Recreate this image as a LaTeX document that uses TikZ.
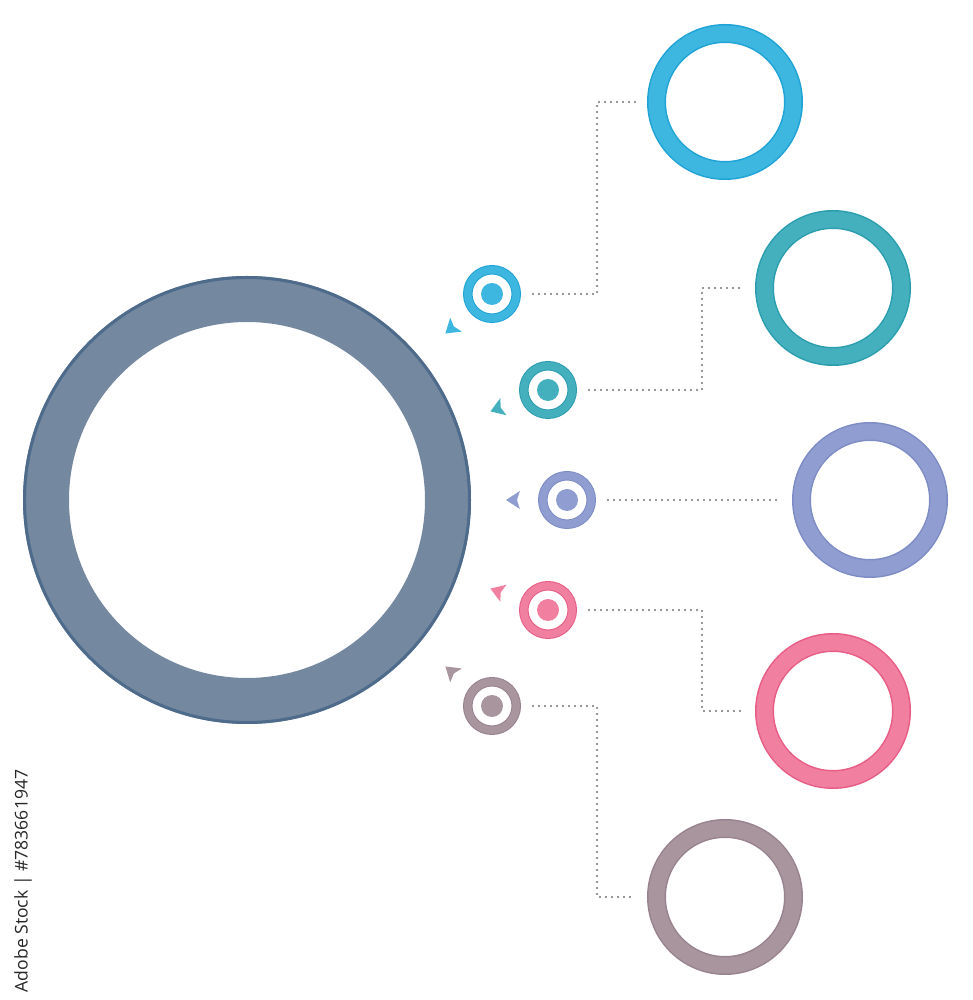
\documentclass[tikz,border=0pt]{standalone}
\usepackage{fontspec}
\newfontfamily\stockfont{Open Sans}
\usetikzlibrary{calc}
\definecolor{hubfill}{HTML}{7489A0}
\definecolor{hubedge}{HTML}{4F6B8B}
\definecolor{bluefill}{HTML}{3DB6E0}
\definecolor{blueedge}{HTML}{1FA3D6}
\definecolor{tealfill}{HTML}{45B0BD}
\definecolor{tealedge}{HTML}{2A9DAE}
\definecolor{lilacfill}{HTML}{909DD0}
\definecolor{lilacedge}{HTML}{7E8CC6}
\definecolor{pinkfill}{HTML}{F07FA0}
\definecolor{pinkedge}{HTML}{E85D85}
\definecolor{mauvefill}{HTML}{A9959D}
\definecolor{mauveedge}{HTML}{988390}
\tikzset{
	ring/.style={circle, inner sep=0pt, outer sep=2.85mm, minimum size=41.1mm, line width=0.45mm, double distance=4.8mm},
	target/.style={circle, inner sep=0pt, outer sep=1.425mm, minimum size=14.55mm, line width=0.3mm, double distance=2.25mm},
	link/.style={draw=black!55, line width=0.7mm, line cap=round, dash pattern=on 0pt off 1.8mm},
}
\def\pointer[#1](#2){\fill[#1] ($(hub.center)+(#2:259)$) -- ($(hub.center)+(#2+1.9:273)$) -- ($(hub.center)+(#2:270)$) -- ($(hub.center)+(#2-1.9:273)$) -- cycle;}

\begin{document}
\begin{tikzpicture}[x=0.3mm, y=0.3mm]
			%%%%% START %%%%%
			\useasboundingbox (0, 0) rectangle (972, 1000);
			
			\node[circle, inner sep=0pt, minimum size=120.6mm, draw=hubfill, line width=13.8mm] (hub) at (247, 500) {};
			\draw[hubedge, line width=0.9mm] (hub.center) circle (222.5);
			
			\node[ring, draw=blueedge, double=bluefill] (r1) at (725, 898) {};
			\node[ring, draw=tealedge, double=tealfill] (r2) at (833, 712) {};
			\node[ring, draw=lilacedge, double=lilacfill] (r3) at (870, 500) {};
			\node[ring, draw=pinkedge, double=pinkfill] (r4) at (833, 289) {};
			\node[ring, draw=mauveedge, double=mauvefill] (r5) at (725, 103) {};
			
			\node[target, draw=blueedge, double=bluefill] (t1) at (492, 706) {};
			\fill[bluefill] (t1.center) circle (11);
			\node[target, draw=tealedge, double=tealfill] (t2) at (548, 610) {};
			\fill[tealfill] (t2.center) circle (11);
			\node[target, draw=lilacedge, double=lilacfill] (t3) at (567, 500) {};
			\fill[lilacfill] (t3.center) circle (11);
			\node[target, draw=pinkedge, double=pinkfill] (t4) at (548, 390) {};
			\fill[pinkfill] (t4.center) circle (11);
			\node[target, draw=mauveedge, double=mauvefill] (t5) at (492, 294) {};
			\fill[mauvefill] (t5.center) circle (11);
			
			\pointer[bluefill](40)
			\pointer[tealfill](20)
			\pointer[lilacfill](0)
			\pointer[pinkfill](-20)
			\pointer[mauvefill](-40)
			
			\coordinate (k1) at (597, 0);
			\coordinate (k2) at (702, 0);
			\draw[link] ([xshift=3.6mm]t1.east) -| (k1 |- r1.west) -- ([xshift=-3.3mm]r1.west);
			\draw[link] ([xshift=3.6mm]t2.east) -| (k2 |- r2.west) -- ([xshift=-3.3mm]r2.west);
			\draw[link] ([xshift=3.6mm]t3.east) -- ([xshift=-3.3mm]r3.west);
			\draw[link] ([xshift=3.6mm]t4.east) -| (k2 |- r4.west) -- ([xshift=-3.3mm]r4.west);
			\draw[link] ([xshift=3.6mm]t5.east) -| (k1 |- r5.west) -- ([xshift=-3.3mm]r5.west);
			
			\node[rotate=90, text=black!85, font=\stockfont\fontsize{15}{18}\selectfont] (stock) at (23, 119) {Adobe Stock | \#783661947};
			
			%%%%% END %%%%%
\end{tikzpicture}
\end{document}
